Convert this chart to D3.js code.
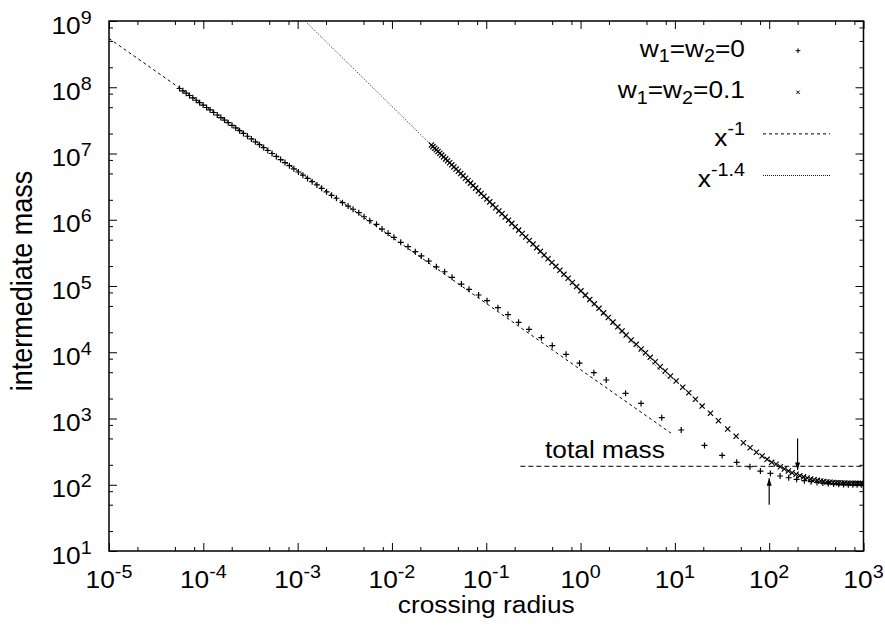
<!DOCTYPE html>
<html>
<head>
<meta charset="utf-8">
<script src="https://d3js.org/d3.v7.min.js"></script>
<style>
body { margin: 0; background: #fff; }
svg { display: block; font-family: "Liberation Sans", Arial, Helvetica, sans-serif; }
</style>
</head>
<body>
<svg width="885" height="634"></svg>
<script>
// w1=w2=0 (plus marks)
var plusX = [5.6e-5, 6.07e-5, 6.58e-5, 7.13e-5, 7.74e-5, 8.41e-5, 9.14e-5, 9.95e-5, 1.083e-4, 1.18e-4,
	1.288e-4, 1.406e-4, 1.535e-4, 1.679e-4, 1.837e-4, 2.014e-4, 2.208e-4, 2.427e-4, 2.667e-4, 2.938e-4,
	3.236e-4, 3.573e-4, 3.945e-4, 4.365e-4, 4.831e-4, 5.358e-4, 5.943e-4, 6.607e-4, 7.345e-4, 8.185e-4,
	9.12e-4, 1.019e-3, 1.138e-3, 1.274e-3, 1.426e-3, 1.6e-3, 1.799e-3, 2.028e-3, 2.29e-3,
	2.58e-3, 2.99e-3, 3.43e-3, 3.87e-3, 4.45e-3, 5.06e-3, 5.82e-3, 6.86e-3, 7.85e-3, 9.10e-3,
	1.05e-2, 1.24e-2, 1.48e-2, 1.77e-2, 2.05e-2, 2.45e-2, 2.96e-2, 3.62e-2, 4.34e-2, 5.45e-2,
	6.56e-2, 8.30e-2, 0.102, 0.133, 0.170, 0.220, 0.284, 0.384, 0.501, 0.702,
	0.975, 1.384, 1.871, 3.00, 4.38, 7.26, 11.67, 20.61, 31.70, 45.29,
	62.52, 80.72, 103.0, 130.6, 161.1, 195.4, 236.0, 278.0, 321.4, 370.7,
	423.6, 482.0, 545.8, 615.2, 690.2, 770.9, 855.1, 948.4];
var plusY = [9.57e7, 8.83e7, 8.14e7, 7.51e7, 6.92e7, 6.37e7, 5.86e7, 5.38e7, 4.95e7, 4.54e7,
	4.16e7, 3.81e7, 3.49e7, 3.19e7, 2.92e7, 2.66e7, 2.43e7, 2.21e7, 2.01e7, 1.82e7,
	1.66e7, 1.50e7, 1.36e7, 1.23e7, 1.11e7, 1.00e7, 9.02e6, 8.11e6, 7.29e6, 6.55e6,
	5.88e6, 5.26e6, 4.71e6, 4.21e6, 3.76e6, 3.35e6, 2.98e6, 2.64e6, 2.34e6,
	2.11e6, 1.81e6, 1.61e6, 1.44e6, 1.28e6, 1.11e6, 9.68e5, 8.53e5, 7.24e5, 6.24e5,
	5.43e5, 4.57e5, 3.92e5, 3.30e5, 2.84e5, 2.38e5, 1.95e5, 1.64e5, 1.35e5, 1.07e5,
	8.91e4, 7.31e4, 6.00e4, 4.70e4, 3.70e4, 2.83e4, 2.22e4, 1.66e4, 1.26e4, 9.31e3,
	6.84e3, 4.91e3, 3.81e3, 2.40e3, 1.69e3, 1.03e3, 670, 392, 277, 218,
	187, 161, 148, 135.5, 127.6, 120.8, 115.1, 111.2, 108.1, 105.9,
	104.0, 102.6, 101.6, 100.8, 100.3, 100.0, 99.8, 99.6];

// w1=w2=0.1 (cross marks)
var crossX = [2.62e-2, 2.72e-2, 2.84e-2, 2.96e-2, 3.08e-2, 3.22e-2, 3.37e-2, 3.53e-2, 3.71e-2, 3.89e-2,
	4.09e-2, 4.31e-2, 4.54e-2, 4.79e-2, 5.06e-2, 5.36e-2, 5.68e-2, 6.03e-2, 6.40e-2, 6.81e-2,
	7.24e-2, 7.73e-2, 8.26e-2, 8.83e-2, 9.46e-2, 0.1014, 0.1089, 0.1172, 0.1262, 0.1361,
	0.1469, 0.1589, 0.1722, 0.1866, 0.2028, 0.2208, 0.2404, 0.2624, 0.2864, 0.3133,
	0.3428, 0.375, 0.411, 0.452, 0.497, 0.547, 0.604, 0.667, 0.738, 0.819,
	0.908, 1.009, 1.125, 1.253, 1.400, 1.567, 1.754, 1.968, 2.208, 2.483, 2.754,
	3.049, 3.444, 3.890, 4.395, 4.883, 5.474, 6.183, 6.986, 7.893, 8.983,
	10.32, 12.12, 14.04, 16.53, 19.46, 23.83, 28.97, 36.35, 44.61, 53.31,
	62.79, 73.17, 84.10, 95.0, 106.3, 118.3, 131.4, 144.9, 159.7, 174.8, 192.8,
	211.3, 231.2, 252.9, 275.4, 299.2, 324.3, 351.6, 379.3, 409.3, 441.6,
	475.3, 511.7, 548.3, 588.8, 631.0, 674.5, 721.1, 770.9, 820.4, 875.0, 929.0, 985.0];
var crossY = [1.345e7, 1.27e7, 1.20e7, 1.136e7, 1.072e7, 1.009e7, 9.47e6, 8.88e6, 8.30e6, 7.77e6,
	7.24e6, 6.75e6, 6.27e6, 5.82e6, 5.39e6, 4.98e6, 4.60e6, 4.23e6, 3.89e6, 3.57e6,
	3.28e6, 3.00e6, 2.73e6, 2.49e6, 2.26e6, 2.05e6, 1.86e6, 1.68e6, 1.52e6, 1.36e6,
	1.23e6, 1.10e6, 9.85e5, 8.81e5, 7.85e5, 6.97e5, 6.20e5, 5.49e5, 4.86e5, 4.29e5,
	3.79e5, 3.34e5, 2.94e5, 2.58e5, 2.26e5, 1.98e5, 1.73e5, 1.50e5, 1.31e5, 1.13e5,
	9.80e4, 8.46e4, 7.28e4, 6.27e4, 5.38e4, 4.60e4, 3.93e4, 3.35e4, 2.85e4, 2.42e4, 2.10e4,
	1.822e4, 1.531e4, 1.318e4, 1.120e4, 9.84e3, 8.39e3, 7.20e3, 6.05e3, 5.21e3, 4.38e3,
	3.68e3, 2.96e3, 2.45e3, 1.95e3, 1.54e3, 1.20e3, 926, 694, 540, 431,
	362, 309, 272, 242, 218, 204, 187, 173, 161, 152, 144,
	137.1, 131.5, 126.5, 122.5, 119.1, 116.4, 114.0, 112.0, 110.4, 109.4,
	108.1, 107.4, 106.7, 106.2, 105.9, 105.4, 105.2, 105.1, 105.0, 104.9, 104.8, 104.7];

// power law guide lines (end points)
var fit1X = [1e-5, 9.1];
var fit1Y = [5.46e8, 600];
var fit14X = [1.2e-3, 9.1];
var fit14Y = [1e9, 3730];

// total mass level and arrows
var totalMassX = [0.23, 1000];
var totalMass = 190;
var arrowX = [200, 100];
var arrowFrom = [500, 50];
var arrowTo = [167, 125];

var xMajor = [1e-5, 1e-4, 1e-3, 1e-2, 1e-1, 1e0, 1e1, 1e2, 1e3];
var yMajor = [1e1, 1e2, 1e3, 1e4, 1e5, 1e6, 1e7, 1e8, 1e9];

function minors(lo, hi) {
	var a = [];
	for (var d = lo; d < hi; d++) {
		[2, 5, 8].forEach(function(m) { a.push(m * Math.pow(10, d)); });
	}
	return a;
}
var xMinor = minors(-5, 3);
var yMinor = minors(1, 9);

var margin = { left: 109, top: 21, right: 21.5, bottom: 83 };
var svg = d3.select("svg");
var width = 885 - margin.left - margin.right;
var height = 634 - margin.top - margin.bottom;
var g = svg.append("g").attr("transform", "translate(" + margin.left + "," + margin.top + ")");

var x = d3.scaleLog().domain([1e-5, 1e3]).range([0, width]);
var y = d3.scaleLog().domain([10, 1e9]).range([height, 0]);

var fs = 23.5, sx = 1.12;

// ticks on all four sides, pointing inward
function tickAxis(axis, vals, size, tr) {
	var a = g.append("g").attr("transform", tr)
		.call(axis.tickValues(vals).tickSize(-size).tickFormat(""));
	a.select(".domain").remove();
	a.selectAll("line").attr("stroke", "#000").attr("stroke-width", 1);
}
tickAxis(d3.axisBottom(x), xMajor, 8, "translate(0," + height + ")");
tickAxis(d3.axisBottom(x), xMinor, 4, "translate(0," + height + ")");
tickAxis(d3.axisTop(x), xMajor, 8, "translate(0,0)");
tickAxis(d3.axisTop(x), xMinor, 4, "translate(0,0)");
tickAxis(d3.axisLeft(y), yMajor, 8, "translate(0,0)");
tickAxis(d3.axisLeft(y), yMinor, 4, "translate(0,0)");
tickAxis(d3.axisRight(y), yMajor, 8, "translate(" + width + ",0)");
tickAxis(d3.axisRight(y), yMinor, 4, "translate(" + width + ",0)");

g.append("rect").attr("width", width).attr("height", height)
	.attr("fill", "none").attr("stroke", "#000").attr("stroke-width", 1.5);

function powLabel(t, e) {
	t.append("tspan").text("10");
	t.append("tspan").attr("dy", -10).attr("font-size", fs * 0.75).text(e);
}
xMajor.forEach(function(v) {
	var t = g.append("text").attr("text-anchor", "middle").attr("font-size", fs)
		.attr("transform", "translate(" + x(v) + "," + (height + 37) + ") scale(" + sx + ",1)");
	powLabel(t, Math.round(Math.log10(v)));
});
yMajor.forEach(function(v) {
	var t = g.append("text").attr("text-anchor", "end").attr("font-size", fs)
		.attr("transform", "translate(-17.3," + (y(v) + 12.6) + ") scale(" + sx + ",1)");
	powLabel(t, Math.round(Math.log10(v)));
});

g.append("text").attr("text-anchor", "middle").attr("font-size", fs)
	.attr("transform", "translate(" + (width / 2) + "," + (height + 62) + ") scale(" + sx + ",1)")
	.text("crossing radius");
g.append("text").attr("text-anchor", "middle").attr("font-size", 27)
	.attr("transform", "translate(-77.5," + (height / 2 - 5) + ") scale(" + sx + ",1) rotate(-90)")
	.text("intermediate mass");

// plot contents
svg.append("defs").append("clipPath").attr("id", "clip")
	.append("rect").attr("width", width).attr("height", height);
var plot = g.append("g").attr("clip-path", "url(#clip)");

var line = d3.line().x(function(d) { return x(d[0]); }).y(function(d) { return y(d[1]); });

plot.append("path").datum(d3.zip(fit1X, fit1Y)).attr("d", line)
	.attr("fill", "none").attr("stroke", "#000").attr("stroke-width", 1).attr("stroke-dasharray", "3,3");
plot.append("path").datum(d3.zip(fit14X, fit14Y)).attr("d", line)
	.attr("fill", "none").attr("stroke", "#000").attr("stroke-width", 0.9).attr("stroke-dasharray", "1,1.6");
plot.append("path").datum(totalMassX.map(function(v) { return [v, totalMass]; })).attr("d", line)
	.attr("fill", "none").attr("stroke", "#000").attr("stroke-width", 1).attr("stroke-dasharray", "5,3");

var plusPath = "M-3,0H3M0,-3V3";
var crossPath = "M-2.6,-2.6L2.6,2.6M-2.6,2.6L2.6,-2.6";

plot.append("g").selectAll("path").data(d3.zip(plusX, plusY)).enter().append("path")
	.attr("transform", function(d) { return "translate(" + x(d[0]) + "," + y(d[1]) + ")"; })
	.attr("d", plusPath).attr("fill", "none").attr("stroke", "#000").attr("stroke-width", 1.2);
plot.append("g").selectAll("path").data(d3.zip(crossX, crossY)).enter().append("path")
	.attr("transform", function(d) { return "translate(" + x(d[0]) + "," + y(d[1]) + ")"; })
	.attr("d", crossPath).attr("fill", "none").attr("stroke", "#000").attr("stroke-width", 1.2);

// arrows
svg.select("defs").append("marker").attr("id", "head")
	.attr("viewBox", "-8 -4 9 8").attr("refX", 0).attr("refY", 0)
	.attr("markerWidth", 9).attr("markerHeight", 8).attr("markerUnits", "userSpaceOnUse")
	.attr("orient", "auto")
	.append("path").attr("d", "M0,0L-7.5,-2.5L-7.5,2.5Z").attr("fill", "#000");
arrowX.forEach(function(v, i) {
	g.append("line").attr("x1", x(v)).attr("x2", x(v))
		.attr("y1", y(arrowFrom[i])).attr("y2", y(arrowTo[i]))
		.attr("stroke", "#000").attr("stroke-width", 1.2).attr("marker-end", "url(#head)");
});

g.append("text").attr("font-size", fs)
	.attr("transform", "translate(" + x(0.42) + "," + y(250) + ") scale(" + sx + ",1)")
	.text("total mass");

// legend
var legendLabels = [
	[["w", 0], ["1", 1], ["=w", 0], ["2", 1], ["=0", 0]],
	[["w", 0], ["1", 1], ["=w", 0], ["2", 1], ["=0.1", 0]],
	[["x", 0], ["-1", -1]],
	[["x", 0], ["-1.4", -1]]
];
var legendDy = [6, 6, 12, 11];
var legend = g.append("g").selectAll("g").data(legendLabels).enter().append("g")
	.attr("transform", function(d, i) { return "translate(0," + (29.7 + i * 41.6) + ")"; });
legend.each(function(parts, i) {
	var t = d3.select(this).append("text").attr("text-anchor", "end").attr("font-size", fs)
		.attr("transform", "translate(636," + legendDy[i] + ") scale(" + sx + ",1)");
	var shift = 0;
	parts.forEach(function(p) {
		var dy = p[1] === 1 ? 5.7 : (p[1] === -1 ? -11 : 0);
		t.append("tspan").attr("dy", dy - shift).attr("font-size", p[1] ? fs * 0.75 : fs).text(p[0]);
		shift = dy;
	});
});
legend.filter(function(d, i) { return i === 0; }).append("path")
	.attr("transform", "translate(689,0)").attr("d", "M-2.4,0H2.4M0,-2.4V2.4")
	.attr("fill", "none").attr("stroke", "#000");
legend.filter(function(d, i) { return i === 1; }).append("path")
	.attr("transform", "translate(689,0)").attr("d", "M-1.7,-1.7L1.7,1.7M-1.7,1.7L1.7,-1.7")
	.attr("fill", "none").attr("stroke", "#000");
legend.filter(function(d, i) { return i === 2; }).append("line")
	.attr("x1", 654).attr("x2", 721).attr("stroke", "#000").attr("stroke-dasharray", "3,3");
legend.filter(function(d, i) { return i === 3; }).append("line")
	.attr("x1", 654).attr("x2", 721).attr("stroke", "#000").attr("stroke-width", 0.9).attr("stroke-dasharray", "1,1");
</script>
</body>
</html>
